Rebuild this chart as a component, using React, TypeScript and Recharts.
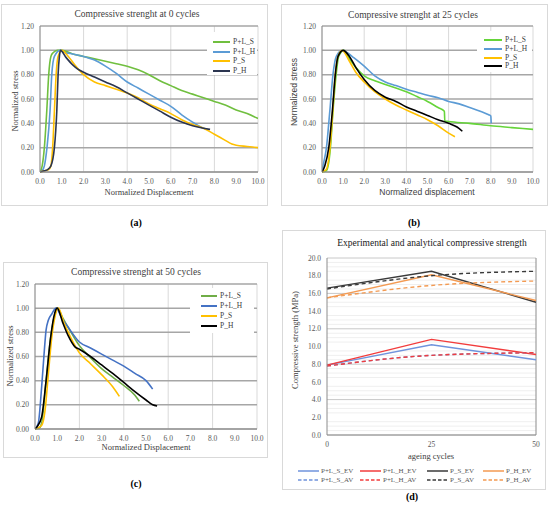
import React from 'react';
import { LineChart, Line, XAxis, YAxis, CartesianGrid, ReferenceLine } from 'recharts';

// (a) 0 cycles
const a_PLS_x = [0, 0.1, 0.2, 0.31, 0.4, 0.5, 0.6, 0.8, 1.0, 1.5, 2.0, 2.5, 3.0, 3.5, 4.0, 4.5, 5.0, 5.5, 6.0, 6.5, 7.0, 7.5, 8.0, 8.5, 9.0, 9.5, 10.0];
const a_PLS_y = [0, 0.05, 0.2, 0.5, 0.8, 0.95, 0.98, 1.0, 1.0, 0.97, 0.95, 0.93, 0.91, 0.89, 0.87, 0.84, 0.8, 0.75, 0.71, 0.67, 0.64, 0.61, 0.58, 0.55, 0.51, 0.48, 0.44];
const a_PLH_x = [0, 0.1, 0.2, 0.32, 0.46, 0.54, 0.66, 0.92, 1.2, 1.5, 2.0, 2.5, 3.0, 3.5, 4.0, 4.5, 5.0, 5.5, 6.0, 6.5, 7.0, 7.5, 7.7];
const a_PLH_y = [0, 0.01, 0.05, 0.2, 0.5, 0.8, 0.95, 1.0, 0.98, 0.97, 0.95, 0.92, 0.87, 0.81, 0.74, 0.69, 0.64, 0.59, 0.54, 0.47, 0.41, 0.36, 0.35];
const a_PS_x = [0, 0.2, 0.4, 0.5, 0.58, 0.66, 0.74, 0.83, 1.0, 1.3, 1.6, 2.0, 2.5, 3.0, 3.5, 4.0, 4.5, 5.0, 5.5, 6.0, 6.5, 7.0, 7.5, 8.0, 8.5, 8.8, 9.0, 9.5, 10.0];
const a_PS_y = [0, 0.01, 0.02, 0.05, 0.2, 0.5, 0.8, 0.95, 1.0, 0.95, 0.88, 0.8, 0.74, 0.71, 0.68, 0.65, 0.61, 0.56, 0.52, 0.48, 0.43, 0.39, 0.36, 0.31, 0.26, 0.23, 0.22, 0.21, 0.2];
const a_PH_x = [0, 0.2, 0.35, 0.5, 0.66, 0.77, 0.83, 0.89, 0.94, 1.2, 1.5, 1.7, 2.0, 2.5, 3.0, 3.5, 4.0, 4.5, 5.0, 5.5, 6.0, 6.5, 7.0, 7.5, 7.8];
const a_PH_y = [0, 0.01, 0.02, 0.05, 0.2, 0.5, 0.8, 0.95, 1.0, 0.94, 0.88, 0.85, 0.82, 0.78, 0.74, 0.7, 0.65, 0.6, 0.55, 0.5, 0.45, 0.41, 0.38, 0.36, 0.35];

// (b) 25 cycles
const b_PLS_x = [0, 0.2, 0.29, 0.4, 0.52, 0.67, 0.79, 1.03, 1.3, 1.6, 2.0, 2.5, 3.0, 3.5, 4.0, 4.5, 5.0, 5.5, 5.8, 5.82, 6.0, 7.0, 8.0, 9.0, 10.0];
const b_PLS_y = [0, 0.01, 0.05, 0.2, 0.5, 0.8, 0.95, 1.0, 0.93, 0.86, 0.79, 0.75, 0.72, 0.69, 0.66, 0.62, 0.58, 0.53, 0.5, 0.42, 0.415, 0.4, 0.38, 0.365, 0.35];
const b_PLH_x = [0, 0.05, 0.21, 0.37, 0.52, 0.68, 0.95, 1.2, 1.5, 2.0, 2.5, 3.0, 3.5, 4.0, 4.5, 5.0, 5.5, 6.0, 6.5, 7.0, 7.5, 7.9, 8.0, 8.02];
const b_PLH_y = [0, 0.05, 0.2, 0.5, 0.8, 0.95, 1.0, 0.98, 0.94, 0.87, 0.79, 0.74, 0.71, 0.68, 0.655, 0.63, 0.61, 0.58, 0.56, 0.53, 0.5, 0.47, 0.46, 0.4];
const b_PS_x = [0, 0.2, 0.38, 0.51, 0.63, 0.76, 0.95, 1.3, 1.6, 2.0, 2.5, 3.0, 3.5, 4.0, 4.5, 5.0, 5.5, 6.0, 6.3];
const b_PS_y = [0, 0.02, 0.2, 0.5, 0.8, 0.95, 1.0, 0.91, 0.82, 0.74, 0.66, 0.6, 0.55, 0.51, 0.47, 0.43, 0.38, 0.32, 0.29];
const b_PH_x = [0, 0.13, 0.32, 0.49, 0.63, 0.76, 1.0, 1.3, 1.6, 2.0, 2.5, 3.0, 3.5, 4.0, 4.5, 5.0, 5.5, 6.0, 6.4, 6.65];
const b_PH_y = [0, 0.05, 0.2, 0.5, 0.8, 0.95, 1.0, 0.95, 0.86, 0.76, 0.67, 0.615, 0.58, 0.535, 0.5, 0.465, 0.43, 0.4, 0.37, 0.335];

// (c) 50 cycles
const c_PLS_x = [0, 0.2, 0.3, 0.5, 0.7, 0.9, 1.0, 1.25, 1.5, 2.0, 2.5, 3.0, 3.5, 4.0, 4.5, 4.7];
const c_PLS_y = [0, 0.01, 0.05, 0.4, 0.75, 0.95, 1.0, 0.92, 0.84, 0.69, 0.59, 0.5, 0.43, 0.36, 0.28, 0.23];
const c_PLH_x = [0, 0.15, 0.3, 0.4, 0.5, 0.6, 0.75, 0.95, 1.2, 1.5, 2.0, 2.5, 3.0, 3.5, 4.0, 4.5, 5.0, 5.3];
const c_PLH_y = [0, 0.05, 0.35, 0.6, 0.82, 0.9, 0.95, 1.0, 0.92, 0.84, 0.72, 0.67, 0.62, 0.57, 0.52, 0.46, 0.4, 0.33];
const c_PS_x = [0, 0.3, 0.45, 0.6, 0.75, 0.9, 1.05, 1.3, 1.6, 2.0, 2.5, 3.0, 3.5, 3.8];
const c_PS_y = [0, 0.03, 0.15, 0.45, 0.75, 0.93, 1.0, 0.88, 0.76, 0.63, 0.54, 0.45, 0.35, 0.27];
const c_PH_x = [0, 0.1, 0.3, 0.5, 0.7, 0.85, 1.0, 1.25, 1.5, 1.8, 2.0, 2.5, 3.0, 3.5, 4.0, 4.5, 5.0, 5.3, 5.5];
const c_PH_y = [0, 0.02, 0.1, 0.4, 0.75, 0.93, 1.0, 0.88, 0.77, 0.68, 0.66, 0.6, 0.53, 0.46, 0.385, 0.31, 0.24, 0.2, 0.19];

// (d) strength vs ageing cycles
const cycles = [0, 25, 50];
const plsEv = [7.9, 10.2, 8.5];
const plhEv = [7.9, 10.8, 9.1];
const psEv = [16.6, 18.5, 15.0];
const phEv = [15.5, 18.1, 15.2];
const plsAv = [7.8, 9.0, 9.3];
const plhAv = [7.8, 9.0, 9.3];
const psAv = [16.5, 18.0, 18.5];
const phAv = [15.5, 16.9, 17.4];

const dispTicks = [0, 1, 2, 3, 4, 5, 6, 7, 8, 9, 10];
const stressTicks = [0, 0.2, 0.4, 0.6, 0.8, 1.0, 1.2];
const strengthTicks = [0, 2, 4, 6, 8, 10, 12, 14, 16, 18, 20];
const strengthMinor = [0.5, 1, 1.5, 2.5, 3, 3.5, 4.5, 5, 5.5, 6.5, 7, 7.5, 8.5, 9, 9.5, 10.5, 11, 11.5, 12.5, 13, 13.5, 14.5, 15, 15.5, 16.5, 17, 17.5, 18.5, 19, 19.5];

type Pt = { x: number; y: number };
const zip = (xs: number[], ys: number[]): Pt[] => xs.map((x, i) => ({ x, y: ys[i] }));

interface Series { name: string; color: string; data: Pt[]; dash?: string; curve?: 'monotone' | 'linear' }
interface Box { left: number; top: number; right: number; bottom: number }

const serif = '"Liberation Serif", "DejaVu Serif", serif';
const sans = '"Liberation Sans", "DejaVu Sans", sans-serif';

const Txt = ({ x, y, size, children, rotate, bold, font, color }: any) => (
  <div
    style={{
      position: 'absolute', left: x, top: y, whiteSpace: 'nowrap', lineHeight: 1,
      transform: `translate(-50%, -50%)${rotate ? ' rotate(-90deg)' : ''}`,
      fontSize: size, fontFamily: font || serif, color: color || '#404040',
      fontWeight: bold ? 'bold' : 'normal',
    }}
  >
    {children}
  </div>
);

const Frame = ({ b }: { b: Box }) => (
  <div style={{ position: 'absolute', left: b.left, top: b.top, width: b.right - b.left, height: b.bottom - b.top, boxSizing: 'border-box', border: '1px solid #d9d9d9' }} />
);

const LegendBox = ({ box, series, rowY, lineX, lineW, size }: { box: Box; series: Series[]; rowY: number[]; lineX: number; lineW: number; size: number }) => (
  <div style={{ position: 'absolute', left: box.left, top: box.top, width: box.right - box.left, height: box.bottom - box.top, background: '#fff' }}>
    {series.map((s, i) => (
      <div key={s.name} style={{ position: 'absolute', left: lineX - box.left, top: rowY[i] - box.top - size / 2, height: size, display: 'flex', alignItems: 'center' }}>
        <svg width={lineW} height={4} style={{ display: 'block' }}><line x1={0} y1={2} x2={lineW} y2={2} stroke={s.color} strokeWidth={2} /></svg>
        <span style={{ fontFamily: serif, fontSize: size, color: '#404040', marginLeft: 3, lineHeight: 1 }}>{s.name}</span>
      </div>
    ))}
  </div>
);

interface CurveProps {
  frame: Box; plot: Box; series: Series[];
  title: string; titleAt: [number, number];
  xLabel: string; xLabelAt: [number, number];
  yLabelAt: [number, number]; labelFont?: string;
  legendBox: Box; legendRows: number[]; legendLineX: number; legendLineW: number;
}

const CurvePanel = (p: CurveProps) => {
  const w = p.frame.right - p.frame.left;
  const h = p.frame.bottom - p.frame.top;
  const xAxisH = 20;
  const margin = { top: p.plot.top - p.frame.top, right: p.frame.right - p.plot.right, left: 0, bottom: p.frame.bottom - p.plot.bottom - xAxisH };
  const tick = { fontSize: 7.5, fill: '#595959', fontFamily: serif };
  return (
    <>
      <Frame b={p.frame} />
      <div style={{ position: 'absolute', left: p.frame.left, top: p.frame.top }}>
        <LineChart width={w} height={h} margin={margin}>
          <CartesianGrid horizontal={false} stroke="#d9d9d9" />
          <CartesianGrid vertical={false} stroke="#a6a6a6" strokeWidth={1.5} />
          <XAxis type="number" dataKey="x" domain={[0, 10]} ticks={dispTicks} tickFormatter={(v: number) => v.toFixed(1)}
            allowDataOverflow height={xAxisH} tickLine={false} tickSize={5} tickMargin={2} stroke="#8c8c8c" tick={tick} />
          <YAxis type="number" dataKey="y" domain={[0, 1.2]} ticks={stressTicks} tickFormatter={(v: number) => v.toFixed(2)}
            width={p.plot.left - p.frame.left} tickLine={false} tickSize={4} tickMargin={2} stroke="#8c8c8c" tick={tick} />
          {p.series.map((s) => (
            <Line key={s.name} data={s.data} dataKey="y" type="monotone" stroke={s.color} strokeWidth={1.6} dot={false} isAnimationActive={false} />
          ))}
        </LineChart>
      </div>
      <LegendBox box={p.legendBox} series={p.series} rowY={p.legendRows} lineX={p.legendLineX} lineW={p.legendLineW} size={7.5} />
      <Txt x={p.titleAt[0]} y={p.titleAt[1]} size={9.5}>{p.title}</Txt>
      <Txt x={p.xLabelAt[0]} y={p.xLabelAt[1]} size={8.5} font={p.labelFont}>{p.xLabel}</Txt>
      <Txt x={p.yLabelAt[0]} y={p.yLabelAt[1]} size={8.5} font={p.labelFont} rotate>Normalized stress</Txt>
    </>
  );
};

const seriesA: Series[] = [
  { name: 'P+L_S', color: '#70bf3f', data: zip(a_PLS_x, a_PLS_y) },
  { name: 'P+L_H', color: '#5b9bd5', data: zip(a_PLH_x, a_PLH_y) },
  { name: 'P_S', color: '#ffc000', data: zip(a_PS_x, a_PS_y) },
  { name: 'P_H', color: '#2b3550', data: zip(a_PH_x, a_PH_y) },
];
const seriesB: Series[] = [
  { name: 'P+L_S', color: '#66d43a', data: zip(b_PLS_x, b_PLS_y) },
  { name: 'P+L_H', color: '#5b9bd5', data: zip(b_PLH_x, b_PLH_y) },
  { name: 'P_S', color: '#ffc000', data: zip(b_PS_x, b_PS_y) },
  { name: 'P_H', color: '#000000', data: zip(b_PH_x, b_PH_y) },
];
const seriesC: Series[] = [
  { name: 'P+L_S', color: '#70ad47', data: zip(c_PLS_x, c_PLS_y) },
  { name: 'P+L_H', color: '#4472c4', data: zip(c_PLH_x, c_PLH_y) },
  { name: 'P_S', color: '#ffc000', data: zip(c_PS_x, c_PS_y) },
  { name: 'P_H', color: '#000000', data: zip(c_PH_x, c_PH_y) },
];

const seriesD: Series[] = [
  { name: 'P+L_S_EV', color: '#6f93dc', data: zip(cycles, plsEv), curve: 'linear' },
  { name: 'P+L_H_EV', color: '#f23c3c', data: zip(cycles, plhEv), curve: 'linear' },
  { name: 'P_S_EV', color: '#3a3a3a', data: zip(cycles, psEv), curve: 'linear' },
  { name: 'P_H_EV', color: '#f39a52', data: zip(cycles, phEv), curve: 'linear' },
  { name: 'P+L_S_AV', color: '#6f93dc', data: zip(cycles, plsAv), dash: '4 3', curve: 'monotone' },
  { name: 'P+L_H_AV', color: '#f23c3c', data: zip(cycles, plhAv), dash: '4 3', curve: 'monotone' },
  { name: 'P_S_AV', color: '#3a3a3a', data: zip(cycles, psAv), dash: '4 3', curve: 'monotone' },
  { name: 'P_H_AV', color: '#f39a52', data: zip(cycles, phAv), dash: '4 3', curve: 'monotone' },
];

const StrengthPanel = () => {
  const frame: Box = { left: 282, top: 230, right: 546, bottom: 490 };
  const plot: Box = { left: 327, top: 258, right: 536, bottom: 435 };
  const w = frame.right - frame.left;
  const h = frame.bottom - frame.top;
  const xAxisH = 20;
  const tick = { fontSize: 7.5, fill: '#595959', fontFamily: serif };
  const legendCols = [298, 360, 427, 483];
  const legendRows = [471, 480];
  return (
    <>
      <Frame b={frame} />
      <div style={{ position: 'absolute', left: frame.left, top: frame.top }}>
        <LineChart width={w} height={h}
          margin={{ top: plot.top - frame.top, right: frame.right - plot.right, left: 0, bottom: frame.bottom - plot.bottom - xAxisH }}>
          {strengthMinor.map((v) => (
            <ReferenceLine key={v} y={v} stroke="#efefef" strokeWidth={1} />
          ))}
          <CartesianGrid vertical={false} stroke="#c8c8c8" />
          <ReferenceLine x={50} stroke="#8c8c8c" />
          <XAxis type="number" dataKey="x" domain={[0, 50]} ticks={cycles} height={xAxisH} tickLine={false}
            tickSize={5} tickMargin={2} stroke="#8c8c8c" tick={tick} />
          <YAxis type="number" dataKey="y" domain={[0, 20]} ticks={strengthTicks} tickFormatter={(v: number) => v.toFixed(1)}
            width={plot.left - frame.left} tickLine={false} tickSize={4} tickMargin={2} stroke="#8c8c8c" tick={tick} />
          {seriesD.map((s) => (
            <Line key={s.name} data={s.data} dataKey="y" type={s.curve} stroke={s.color} strokeWidth={1.4}
              strokeDasharray={s.dash} dot={false} isAnimationActive={false} />
          ))}
        </LineChart>
      </div>
      <Txt x={432} y={244} size={9.5} color="#1a1a1a">Experimental and analytical compressive strength</Txt>
      <Txt x={431} y={456} size={8.5}>ageing cycles</Txt>
      <Txt x={295} y={340} size={8.5} rotate>Compressive strength (MPa)</Txt>
      {seriesD.map((s, i) => {
        const col = i % 4;
        const row = Math.floor(i / 4);
        return (
          <div key={s.name} style={{ position: 'absolute', left: legendCols[col], top: legendRows[row] - 4, height: 8, display: 'flex', alignItems: 'center' }}>
            <svg width={21} height={4} style={{ display: 'block' }}>
              <line x1={0} y1={2} x2={21} y2={2} stroke={s.color} strokeWidth={1.5} strokeDasharray={s.dash ? '3.5 2' : undefined} />
            </svg>
            <span style={{ fontFamily: serif, fontSize: 7, color: '#595959', marginLeft: 2, lineHeight: 1 }}>{s.name}</span>
          </div>
        );
      })}
    </>
  );
};

const App = () => (
  <div style={{ position: 'absolute', left: 0, top: 0, width: 550, height: 514, background: '#fff', overflow: 'hidden' }}>
    <CurvePanel
      frame={{ left: 1, top: 4, right: 268, bottom: 206 }}
      plot={{ left: 40, top: 26, right: 258, bottom: 172 }}
      series={seriesA}
      title="Compressive strenght at 0 cycles" titleAt={[137, 15]}
      xLabel="Normalized Displacement" xLabelAt={[149, 192]}
      yLabelAt={[15, 101]}
      legendBox={{ left: 207, top: 32, right: 257, bottom: 75 }}
      legendRows={[42, 51.5, 61, 70.5]} legendLineX={213} legendLineW={17}
    />
    <CurvePanel
      frame={{ left: 281, top: 4, right: 548, bottom: 206 }}
      plot={{ left: 322, top: 26, right: 533, bottom: 172 }}
      series={seriesB}
      title="Compressive strenght at 25 cycles" titleAt={[413, 16]}
      xLabel="Normalized displacement" xLabelAt={[427, 192]}
      yLabelAt={[294, 92]} labelFont={sans}
      legendBox={{ left: 477, top: 31, right: 532, bottom: 72 }}
      legendRows={[39.5, 48.5, 57.5, 66]} legendLineX={484} legendLineW={18}
    />
    <CurvePanel
      frame={{ left: 3, top: 262, right: 268, bottom: 458 }}
      plot={{ left: 35, top: 284, right: 257, bottom: 429 }}
      series={seriesC}
      title="Compressive strenght at 50 cycles" titleAt={[136, 273]}
      xLabel="Normalized Displacement" xLabelAt={[146, 447]}
      yLabelAt={[10, 356]}
      legendBox={{ left: 190, top: 288, right: 254, bottom: 333 }}
      legendRows={[296, 306, 316, 326]} legendLineX={201} legendLineW={16}
    />
    <StrengthPanel />
    <Txt x={136} y={223} size={10} bold color="#000">(a)</Txt>
    <Txt x={414} y={223} size={10} bold color="#000">(b)</Txt>
    <Txt x={136} y={484} size={10} bold color="#000">(c)</Txt>
    <Txt x={412} y={497} size={10} bold color="#000">(d)</Txt>
  </div>
);

export default App;
